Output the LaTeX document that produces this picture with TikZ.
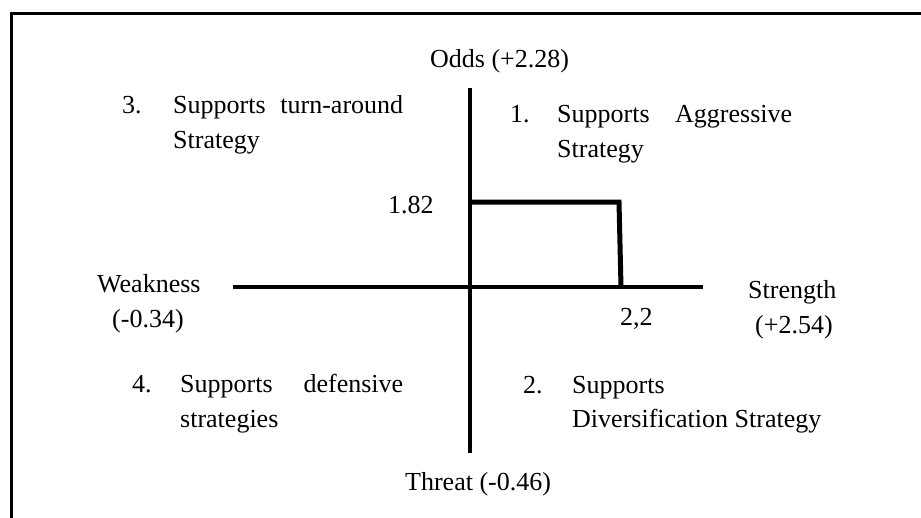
\documentclass[tikz,border=0pt]{standalone}
\usepackage{fontspec}
\setmainfont{Liberation Serif}
\usepackage{tikz}

\begin{document}
\begin{tikzpicture}[x=1pt,y=-1pt,line join=miter]
	\tikzstyle{lbl}=[anchor=base west,inner sep=0pt,font=\fontsize{26}{35}\selectfont];
	\tikzstyle{axis}=[line width=3.6pt];
	\tikzstyle{bar}=[line width=5pt];
	\tikzstyle{frame}=[line width=2.8pt];

	\useasboundingbox (0,0) rectangle (921,517);
	% frame, only top and left are seen
	\coordinate (fbot) at (11.3,525);
	\coordinate (fcorner) at (11.3,13.5);
	\coordinate (fright) at (930,13.5);
	\draw[frame] (fbot) -- (fcorner) -- (fright);

	% axes
	\coordinate (odds) at (470,88);
	\coordinate (threat) at (470,453);
	\coordinate (weak) at (233,287);
	\coordinate (strength) at (703,287);
	\draw[axis] (odds) -- (threat);
	\draw[axis] (weak) -- (strength);

	% position bar
	\coordinate (hi) at (471,202);
	\coordinate (corner) at (619,202);
	\coordinate (foot) at (621,287);
	\draw[bar] (hi) -- (corner) -- (foot);

	% axis labels
	\node[lbl] (oddslbl) at (430,67) {Odds (+2.28)};
	\node[lbl] (threatlbl) at (405,490) {Threat (-0.46)};
	\node[lbl] (weaklbl) at (97,292) {Weakness};
	\node[lbl] (weakval) at (112,327) {(-0.34)};
	\node[lbl] (strlbl) at (748,298) {Strength};
	\node[lbl] (strval) at (755,333) {(+2.54)};
	\node[lbl] (val182) at (388,213) {1.82};
	\node[lbl] (val22) at (620,325) {2,2};

	% quadrants
	\node[lbl] (num3) at (122,113) {3.};
	\node[lbl] (sup3) at (173,113) {\hbox to 230pt{Supports\hfill turn-around}};
	\node[lbl] (str3) at (173,148) {Strategy};
	\node[lbl] (num1) at (510,122) {1.};
	\node[lbl] (sup1) at (557,122) {\hbox to 235pt{Supports\hfill Aggressive}};
	\node[lbl] (str1) at (557,157) {Strategy};
	\node[lbl] (num4) at (132,392) {4.};
	\node[lbl] (sup4) at (180,392) {\hbox to 223pt{Supports\hfill defensive}};
	\node[lbl] (str4) at (180,427) {strategies};
	\node[lbl] (num2) at (523,393) {2.};
	\node[lbl] (sup2) at (572,393) {Supports};
	\node[lbl] (str2) at (572,427) {Diversification Strategy};
\end{tikzpicture}
\end{document}
